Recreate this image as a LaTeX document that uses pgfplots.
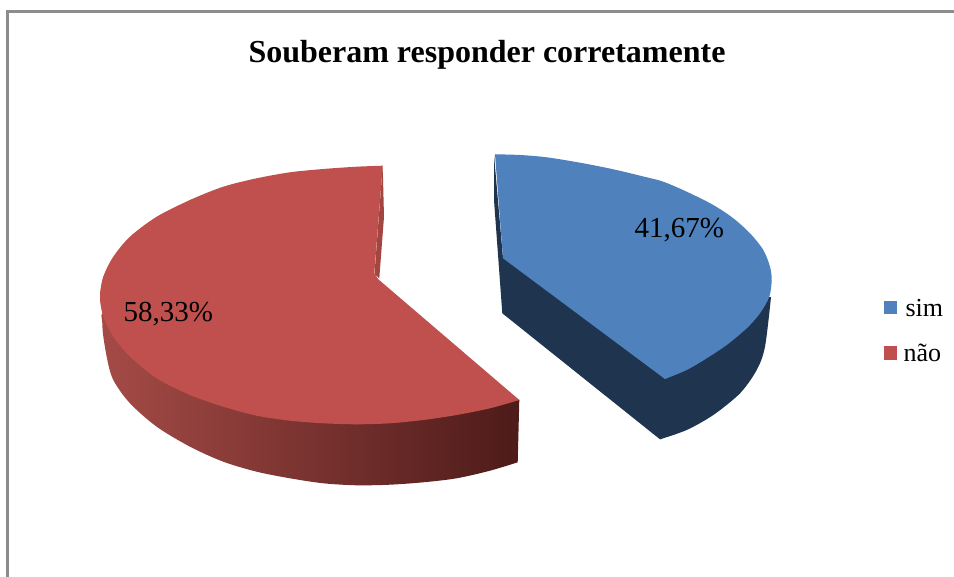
\documentclass[border=0pt]{standalone}
\usepackage{pgfplots}
\pgfplotsset{compat=1.18}
\usepackage{fontspec}
\setmainfont{Liberation Serif}
\definecolor{blueTop}{HTML}{4F81BD}
\definecolor{blueSide}{HTML}{1F344E}
\definecolor{redTop}{HTML}{C0504D}
\definecolor{redInner}{HTML}{A34541}
\definecolor{redL}{HTML}{A64B47}
\definecolor{redR}{HTML}{4D1B19}
\definecolor{frameC}{HTML}{8C8C8C}
\begin{document}
\begin{tikzpicture}
\begin{axis}[
  scale only axis, width=954pt, height=577pt,
  xmin=0, xmax=954, ymin=0, ymax=577, y dir=reverse,
  hide axis, clip=true,
  every node/.append style={inner sep=0pt, outer sep=0pt, text=black},
]
% background (also fixes the picture's extent)
\addplot[fill=white, draw=none, no marks] coordinates {(0,0) (954,0) (954,577) (0,577)};
% frame
\addplot[frameC, line width=3pt, no marks] coordinates {(7.5,577) (7.5,11.5) (954,11.5)};

% red side wall
\addplot[draw=none, left color=redL, right color=redR, no marks, smooth] coordinates {
(517.7,462.3) (490,470.7) (456.7,478.3) (423.3,482.3) (390,484.7) (356.7,485.3) (323.3,483.3)
(290,478.3) (256.7,471.7) (223.3,461.7) (190,446.7) (156.7,426.7) (130,403.3) (113.3,380) (106.7,356.7) (102.5,325)
(110,310) (200,320) (350,350) (460,385) (519.3,400)
};
% red top: lower arc, upper arc, wedge
\addplot[fill=redTop, draw=none, no marks, smooth] coordinates {
(519.3,400) (490,408.3) (456.7,415) (423.3,420) (390,423.3) (356.7,424.3) (323.3,423.3)
(290,420.7) (256.7,415.7) (223.3,406.7) (190,395) (156.7,378.3) (130,356.7) (113.3,336.7) (103.3,316.7) (100,296.7) (103.3,276.7)
};
\addplot[fill=redTop, draw=none, no marks, smooth] coordinates {
(103.3,316.7) (100,296.7) (103.3,276.7)
(113.3,256.7) (130,236.7) (156.7,216.7) (190,200) (223.3,186.7) (256.7,178.3) (290,172.3) (323.3,169) (356.7,166.7) (382.7,165.7)
};
\addplot[fill=redTop, draw=none, no marks] coordinates {
(382.7,165.7) (374.3,273.3) (378.3,279.3) (519.3,400) (356.7,424.3) (190,395) (103.3,316.7) (103.3,276.7) (190,200) };
% red inner sliver
\addplot[fill=redInner, draw=none, no marks] coordinates {
(382.7,166) (384,216.7) (379.3,278.3) (374.5,274) };

% blue side
\addplot[fill=blueSide, draw=none, no marks, smooth] coordinates {
(660,439.3) (686.7,430) (713.3,415) (740,393.3) (756.7,370) (765,346.7) (771,297)
};
\addplot[fill=blueSide, draw=none, no marks] coordinates {
(494,155) (494,200) (502.3,313.3) (660,439.3) (740,393.3) (771,297) (665,300) (503,258)
};
% blue top
\addplot[fill=blueTop, draw=none, no marks, smooth] coordinates {
(665,379) (686.7,370) (706.7,358.3) (726.7,345) (746.7,328.3) (760,313.3) (769.3,296.7) (771.7,280) (770,266.7)
(763.3,250) (750,233.3) (733.3,218.3) (713.3,205) (686.7,191.7) (663.3,181.7) (646.7,177.3) (613.3,169.3) (580,162.7) (546.7,157.3) (520,155) (495,154.3)
};
\addplot[fill=blueTop, draw=none, no marks] coordinates {
(495,154.3) (503,258.3) (665,379) (771.7,280) };

% legend keys
\addplot[fill=blueTop, draw=none, no marks] coordinates {(884,301) (897,301) (897,314) (884,314)};
\addplot[fill=redTop, draw=none, no marks] coordinates {(884,346) (897,346) (897,360) (884,360)};

% texts
\node[anchor=base, font=\fontsize{32}{34}\selectfont\bfseries] at (axis cs:487,63) {Souberam responder corretamente};
\node[anchor=base west, font=\fontsize{29}{30}\selectfont] at (axis cs:631,238) {41,67\%};
\node[anchor=base west, font=\fontsize{29}{30}\selectfont] at (axis cs:120,322) {58,33\%};
\node[anchor=base west, font=\fontsize{26}{30}\selectfont] at (axis cs:902,317) {sim};
\node[anchor=base west, font=\fontsize{26}{30}\selectfont] at (axis cs:900,361.5) {não};
\end{axis}
\end{tikzpicture}
\end{document}
